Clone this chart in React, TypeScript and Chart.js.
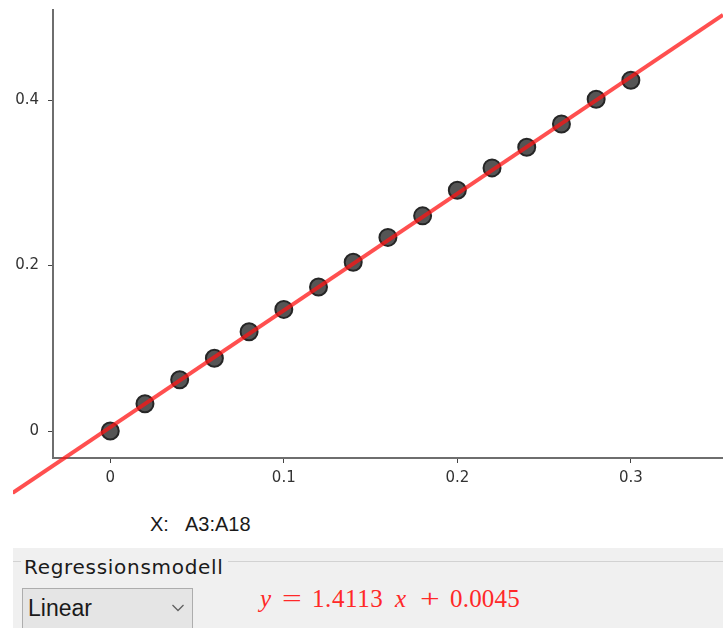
import React, { useEffect, useRef } from "react";
import { Chart, registerables } from "chart.js";

Chart.register(...registerables);

// ---- data ----
const xValues = [0, 0.02, 0.04, 0.06, 0.08, 0.1, 0.12, 0.14, 0.16, 0.18, 0.2, 0.22, 0.24, 0.26, 0.28, 0.3];
const yValues = [0, 0.033, 0.062, 0.088, 0.12, 0.147, 0.174, 0.204, 0.234, 0.26, 0.291, 0.318, 0.343, 0.371, 0.401, 0.424];
const slope = 1.4113;
const intercept = 0.0045;
const fitLineX = [-0.0562, 0.3531];
const xRange = [-0.033, 0.3531];
const yRange = [-0.0326, 0.51];
const xTickStep = 0.1;
const yTickStep = 0.2;
const xSourceLabel = "X:";
const xSourceRange = "A3:A18";
const modelTitle = "Regressionsmodell";
const modelChoice = "Linear";

const tickFont = { family: "'DejaVu Sans', sans-serif", size: 15 };

const zeroPadding = (s: any) => {
  s.paddingLeft = 0;
  s.paddingRight = 0;
  s.paddingTop = 0;
  s.paddingBottom = 0;
};

function App() {
  const canvasRef = useRef<HTMLCanvasElement | null>(null);

  useEffect(() => {
    const canvas = canvasRef.current;
    if (!canvas) return;
    const points = xValues.map((x, i) => ({ x, y: yValues[i] }));
    const fit = fitLineX.map((x) => ({ x, y: slope * x + intercept }));
    const chart = new Chart(canvas, {
      type: "scatter",
      data: {
        datasets: [
          {
            label: "fit",
            data: fit,
            showLine: true,
            borderColor: "rgba(255,20,20,0.75)",
            borderWidth: 4,
            pointRadius: 0,
            pointHoverRadius: 0,
            clip: false as any,
            order: 0,
          } as any,
          {
            label: "data",
            data: points,
            pointRadius: 8.5,
            pointHoverRadius: 8.5,
            pointBackgroundColor: "#555555",
            pointBorderColor: "#262626",
            pointBorderWidth: 2,
            order: 1,
          } as any,
        ],
      },
      options: {
        animation: false,
        responsive: false,
        maintainAspectRatio: false,
        layout: { padding: 0, autoPadding: false },
        events: [],
        plugins: { legend: { display: false }, tooltip: { enabled: false } },
        scales: {
          x: {
            type: "linear",
            position: "bottom",
            min: xRange[0],
            max: xRange[1],
            afterFit: (s: any) => {
              s.height = 37;
              zeroPadding(s);
            },
            border: { display: true, color: "#6e6e6e", width: 2 },
            grid: { display: true, drawOnChartArea: false, drawTicks: true, tickLength: 5, color: "#444444", lineWidth: 1 },
            ticks: {
              stepSize: xTickStep,
              includeBounds: false,
              padding: 6,
              color: "#333333",
              font: tickFont,
              maxRotation: 0,
              autoSkip: false,
            },
          } as any,
          y: {
            type: "linear",
            position: "left",
            min: yRange[0],
            max: yRange[1],
            afterFit: (s: any) => {
              s.width = 40;
              zeroPadding(s);
            },
            border: { display: true, color: "#6e6e6e", width: 2 },
            grid: { display: true, drawOnChartArea: false, drawTicks: true, tickLength: 5, color: "#444444", lineWidth: 1 },
            ticks: {
              stepSize: yTickStep,
              includeBounds: false,
              padding: 9,
              color: "#333333",
              font: tickFont,
              autoSkip: false,
            },
          } as any,
        },
      },
    });
    return () => chart.destroy();
  }, []);

  const abs = (style: React.CSSProperties): React.CSSProperties => ({ position: "absolute", ...style });
  const red = "rgb(255,40,40)";
  const serif = "'Liberation Serif', 'DejaVu Serif', serif";

  return (
    <div style={abs({ left: 0, top: 0, width: 723, height: 628, overflow: "hidden", background: "#ffffff" })}>
      <canvas ref={canvasRef} width={710} height={486} style={abs({ left: 13, top: 9, width: 710, height: 486, display: "block" })} />

      <span style={abs({ left: 150, top: 514, fontFamily: "'Liberation Sans', Arial, sans-serif", fontSize: 20, lineHeight: "20px", color: "#1a1a1a", whiteSpace: "pre" })}>{xSourceLabel}</span>
      <span style={abs({ left: 185, top: 514, fontFamily: "'Liberation Sans', Arial, sans-serif", fontSize: 20, lineHeight: "20px", color: "#1a1a1a", whiteSpace: "pre" })}>{xSourceRange}</span>

      <div style={abs({ left: 13, top: 548, width: 710, height: 80, background: "#f0f0f0" })} />
      <div style={abs({ left: 13, top: 561, width: 8, height: 1, background: "#d2d2d2" })} />
      <div style={abs({ left: 228, top: 561, width: 495, height: 1, background: "#d2d2d2" })} />
      <span style={abs({ left: 24, top: 556, fontFamily: "'DejaVu Sans', sans-serif", fontSize: 20, lineHeight: "22px", letterSpacing: "0.7px", color: "#1a1a1a", whiteSpace: "pre" })}>{modelTitle}</span>

      <div style={abs({ left: 22, top: 588, width: 169, height: 44, background: "#e5e5e5", border: "1px solid #adadad" })} />
      <span style={abs({ left: 28, top: 596, fontFamily: "'Liberation Sans', Arial, sans-serif", fontSize: 23, lineHeight: "24px", color: "#1a1a1a", whiteSpace: "pre" })}>{modelChoice}</span>
      <svg width={14} height={10} style={abs({ left: 171, top: 603 })}>
        <polyline points="1.5,2 7,7.5 12.5,2" fill="none" stroke="#606060" strokeWidth={1.3} />
      </svg>

      <span style={abs({ left: 260, top: 587, fontFamily: serif, fontStyle: "italic", fontSize: 25, lineHeight: "24px", color: red })}>y</span>
      <span style={abs({ left: 282, top: 587, fontFamily: serif, fontSize: 25, lineHeight: "24px", color: red, display: "inline-block", transform: "scaleX(1.4)", transformOrigin: "left center" })}>=</span>
      <span style={abs({ left: 312, top: 587, fontFamily: serif, fontSize: 25, lineHeight: "24px", letterSpacing: "0.6px", color: red })}>1.4113</span>
      <span style={abs({ left: 395, top: 587, fontFamily: serif, fontStyle: "italic", fontSize: 25, lineHeight: "24px", color: red })}>x</span>
      <span style={abs({ left: 420, top: 587, fontFamily: serif, fontSize: 25, lineHeight: "24px", color: red, display: "inline-block", transform: "scaleX(1.4)", transformOrigin: "left center" })}>+</span>
      <span style={abs({ left: 450, top: 587, fontFamily: serif, fontSize: 25, lineHeight: "24px", letterSpacing: "0.2px", color: red })}>0.0045</span>
    </div>
  );
}

export default App;
